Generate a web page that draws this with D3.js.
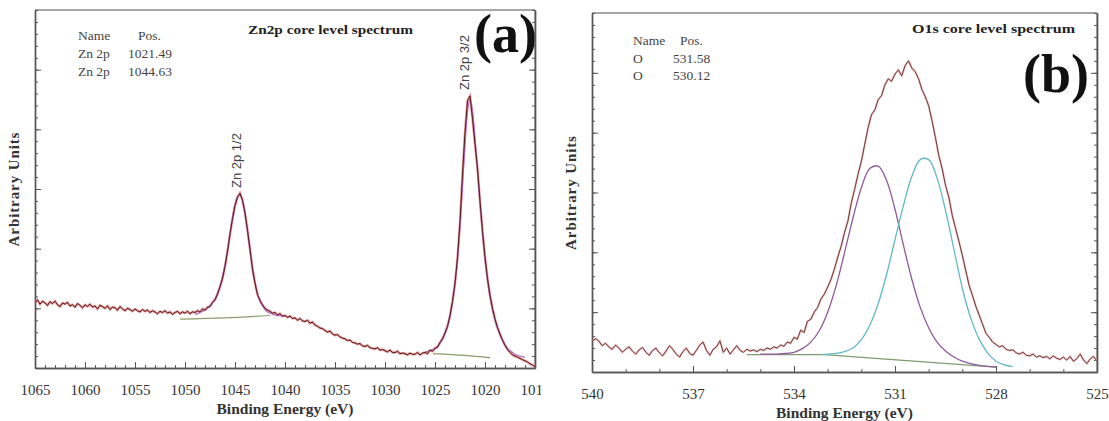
<!DOCTYPE html>
<html>
<head>
<meta charset="utf-8">
<script src="https://cdn.jsdelivr.net/npm/d3@7"></script>
<style>
  body { margin: 0; background: #fff; }
  svg { display: block; }
  text { font-family: "Liberation Serif", "Times New Roman", Times, serif; }
</style>
</head>
<body>
<svg id="chart" width="1109" height="421"></svg>
<script>
// ---------------- panel (a): Zn 2p ----------------
// raw spectrum, sampled every 0.25 eV from 1065 eV down to 1015 eV
const znStart = 1065;
const znStep = 0.25;
const znCounts = [
  1.10, 1.14, 1.07, 1.12, 1.09, 1.05, 1.11, 1.08, 1.12, 1.06, 1.03, 1.09,
  1.07, 1.10, 1.04, 1.06, 1.02, 1.08, 1.05, 1.01, 1.06, 1.03, 1.07, 1.02,
  1.04, 0.99, 1.05, 1.03, 1.00, 1.04, 0.98, 1.02, 1.01, 0.97, 1.03, 0.99,
  0.96, 1.00, 0.98, 0.95, 0.99, 0.96, 0.94, 0.98, 0.95, 0.97, 0.93, 0.96,
  0.94, 0.91, 0.95, 0.93, 0.96, 0.92, 0.94, 0.90, 0.93, 0.95, 0.91, 0.94,
  0.92, 0.95, 0.91, 0.94,
  0.93, 0.96, 0.94, 0.99, 0.97, 1.02, 1.03, 1.10, 1.14, 1.24, 1.36, 1.50,
  1.70, 1.95, 2.24, 2.50, 2.72, 2.86, 2.93, 2.81, 2.60, 2.31, 1.99, 1.66,
  1.42, 1.23, 1.13, 1.06, 1.00, 0.97, 0.95, 0.92, 0.93, 0.89, 0.91, 0.87,
  0.88, 0.85, 0.87, 0.83, 0.84, 0.80, 0.83, 0.79, 0.78, 0.80, 0.75, 0.77,
  0.72, 0.70, 0.67, 0.66, 0.63, 0.60, 0.62, 0.57, 0.55, 0.56, 0.52, 0.50,
  0.49, 0.46, 0.47, 0.43, 0.42, 0.40, 0.41, 0.37, 0.36, 0.38, 0.34, 0.33,
  0.32, 0.34, 0.30, 0.31, 0.29, 0.27, 0.30, 0.26, 0.26, 0.28, 0.24, 0.25,
  0.24, 0.22, 0.25, 0.23, 0.23, 0.26, 0.22, 0.25,
  0.26, 0.24, 0.30, 0.28, 0.33, 0.35, 0.43, 0.49, 0.59, 0.70, 0.88, 1.12,
  1.42, 1.85, 2.45, 3.25, 3.95, 4.48, 4.56, 4.18, 3.75, 3.35, 2.80, 2.30,
  1.86, 1.50, 1.22, 1.00, 0.82, 0.68, 0.57, 0.47, 0.38, 0.31, 0.26, 0.22,
  0.20, 0.18, 0.16, 0.14, 0.12, 0.10, 0.07, 0.05, 0.02
];
// fitted envelope over the two peaks [eV, intensity]
const znFit12 = [
  [1049, 0.90], [1048.75, 0.91], [1048.5, 0.93], [1048.25, 0.95], [1048, 0.97],
  [1047.75, 1.00], [1047.5, 1.04], [1047.25, 1.09], [1047, 1.16], [1046.75, 1.25],
  [1046.5, 1.37], [1046.25, 1.53], [1046, 1.73], [1045.75, 1.98], [1045.5, 2.25],
  [1045.25, 2.52], [1045, 2.74], [1044.75, 2.87], [1044.5, 2.90], [1044.25, 2.80],
  [1044, 2.58], [1043.75, 2.30], [1043.5, 1.98], [1043.25, 1.68], [1043, 1.43],
  [1042.75, 1.25], [1042.5, 1.12], [1042.25, 1.04], [1042, 0.98], [1041.75, 0.94],
  [1041.5, 0.92], [1041.25, 0.90], [1041, 0.89], [1040.75, 0.88], [1040.5, 0.88],
  [1040.25, 0.87], [1040, 0.87]
];
const znFit32 = [
  [1026, 0.27], [1025.75, 0.28], [1025.5, 0.29], [1025.25, 0.31], [1025, 0.33],
  [1024.75, 0.36], [1024.5, 0.41], [1024.25, 0.48], [1024, 0.57], [1023.75, 0.69],
  [1023.5, 0.86], [1023.25, 1.09], [1023, 1.40], [1022.75, 1.82], [1022.5, 2.38],
  [1022.25, 3.05], [1022, 3.75], [1021.75, 4.30], [1021.5, 4.52], [1021.25, 4.30],
  [1021, 3.85], [1020.75, 3.30], [1020.5, 2.75], [1020.25, 2.25], [1020, 1.82],
  [1019.75, 1.47], [1019.5, 1.19], [1019.25, 0.97], [1019, 0.80], [1018.75, 0.66],
  [1018.5, 0.55], [1018.25, 0.46], [1018, 0.39], [1017.75, 0.33], [1017.5, 0.29],
  [1017.25, 0.26], [1017, 0.23], [1016.75, 0.21], [1016.5, 0.20], [1016.25, 0.19],
  [1016, 0.18]
];
// Shirley backgrounds under each peak
const znBg12 = [[1050.5, 0.82], [1046, 0.84], [1041.5, 0.88]];
const znBg32 = [[1025.2, 0.24], [1022, 0.21], [1019.5, 0.17]];
const znTicks = [1065, 1060, 1055, 1050, 1045, 1040, 1035, 1030, 1025, 1020, 1015];
const znLegend = [['Name', 'Pos.'], ['Zn 2p', '1021.49'], ['Zn 2p', '1044.63']];

// ---------------- panel (b): O 1s ----------------
// raw spectrum, sampled every 0.1 eV from 540 eV down to 525 eV
const oStart = 540;
const oStep = 0.1;
const oCounts = [
  0.50, 0.56, 0.52, 0.44, 0.48, 0.42, 0.38, 0.45, 0.40, 0.33,
  0.38, 0.42, 0.35, 0.30, 0.37, 0.41, 0.33, 0.28, 0.36, 0.40,
  0.32, 0.27, 0.35, 0.44, 0.38, 0.30, 0.25, 0.34, 0.40, 0.31,
  0.28, 0.36, 0.45, 0.50, 0.36, 0.28, 0.38, 0.42, 0.52, 0.33,
  0.40, 0.30, 0.37, 0.44, 0.36, 0.33, 0.38, 0.35, 0.37, 0.34,
  0.38, 0.36, 0.40, 0.38, 0.42, 0.40, 0.45, 0.43, 0.50, 0.48,
  0.58, 0.55, 0.70, 0.66, 0.85, 0.88, 1.00, 1.08, 1.22, 1.30,
  1.42, 1.55, 1.72, 1.92, 2.10, 2.33, 2.52, 2.82, 3.05, 3.30,
  3.52, 3.80, 4.08, 4.30, 4.38, 4.55, 4.62, 4.80, 4.90, 4.86,
  4.98, 5.05, 4.95, 5.12, 5.20, 5.08, 5.02, 4.90, 4.72, 4.60,
  4.45, 4.20, 3.92, 3.62, 3.40, 3.12, 2.92, 2.62, 2.40, 2.18,
  1.95, 1.70, 1.45, 1.28, 1.10, 0.95, 0.80, 0.65, 0.58, 0.50,
  0.46, 0.42, 0.44, 0.38, 0.36, 0.37, 0.32, 0.30, 0.33, 0.28,
  0.27, 0.30, 0.25, 0.27, 0.24, 0.26, 0.22, 0.27, 0.23, 0.21,
  0.25, 0.20, 0.26, 0.18, 0.22, 0.30, 0.20, 0.14, 0.22, 0.26,
  0.18
];
// fitted components [eV, intensity]
const oPeak1 = [ // 531.58 eV, purple
  [535, 0.30], [534.75, 0.30], [534.5, 0.30], [534.25, 0.31], [534, 0.33],
  [533.75, 0.39], [533.5, 0.50], [533.25, 0.69], [533, 1.00], [532.75, 1.44],
  [532.5, 1.99], [532.25, 2.57], [532, 3.08], [531.75, 3.40], [531.5, 3.44],
  [531.25, 3.20], [531, 2.72], [530.75, 2.12], [530.5, 1.55], [530.25, 1.08],
  [530, 0.74], [529.75, 0.50], [529.5, 0.35], [529.25, 0.25], [529, 0.18],
  [528.75, 0.14], [528.5, 0.11], [528, 0.08]
];
const oPeak2 = [ // 530.12 eV, cyan
  [533.2, 0.29], [533, 0.30], [532.75, 0.31], [532.5, 0.34],
  [532.25, 0.40], [532, 0.54], [531.75, 0.78], [531.5, 1.14], [531.25, 1.63],
  [531, 2.21], [530.75, 2.78], [530.5, 3.27], [530.25, 3.55], [530, 3.55],
  [529.75, 3.24], [529.5, 2.70], [529.25, 2.05], [529, 1.40], [528.75, 0.90],
  [528.5, 0.55], [528.25, 0.32], [528, 0.18], [527.75, 0.12], [527.5, 0.09]
];
const oBg = [[535.4, 0.29], [533.1, 0.29], [528, 0.08]];
const oTicks = [540, 537, 534, 531, 528, 525];
const oLegend = [['Name', 'Pos.'], ['O', '531.58'], ['O', '530.12']];

const svg = d3.select('#chart');

const drawPanel = (p) => {
  const g = svg.append('g');
  if (p.clipRight) {
    const id = `clip-${p.id}`;
    svg.append('defs').append('clipPath').attr('id', id)
      .append('rect').attr('x', p.left - 40).attr('y', 0)
      .attr('width', p.clipRight - p.left + 40).attr('height', 421);
    g.attr('clip-path', `url(#${id})`);
  }

  const x = d3.scaleLinear().domain(p.xDomain).range([p.left, p.right]);
  const y = d3.scaleLinear().domain([0, 6]).range([p.bottom, p.top]);

  // frame
  g.append('line').attr('x1', p.left).attr('x2', p.right).attr('y1', p.top).attr('y2', p.top)
    .attr('stroke', '#8a8a8a').attr('stroke-width', 1.6);
  g.append('line').attr('x1', p.right).attr('x2', p.right).attr('y1', p.top).attr('y2', p.bottom)
    .attr('stroke', '#8a8a8a').attr('stroke-width', 1);

  const styleAxis = (sel) => {
    sel.attr('font-family', null);
    sel.selectAll('path, line').attr('stroke', '#555');
    sel.select('.domain').attr('stroke-width', 1.4);
    sel.selectAll('text').attr('fill', '#333').attr('font-size', 15);
  };

  // bottom axis
  g.append('g').attr('transform', `translate(0,${p.bottom})`)
    .call(d3.axisBottom(x).tickValues(p.xMinor).tickSizeInner(-3).tickSizeOuter(0).tickFormat(''))
    .call(styleAxis);
  g.append('g').attr('transform', `translate(0,${p.bottom})`)
    .call(d3.axisBottom(x).tickValues(p.ticks).tickSizeInner(-6).tickSizeOuter(0)
      .tickPadding(16).tickFormat(d3.format('d')))
    .call(styleAxis);

  // left / right axes, unlabelled
  const yMinor = d3.range(0, 6.001, 0.2);
  const yMajor = [1, 2, 3, 4, 5];
  [[d3.axisLeft, p.left], [d3.axisRight, p.right]].forEach(([axis, pos]) => {
    g.append('g').attr('transform', `translate(${pos},0)`)
      .call(axis(y).tickValues(yMinor).tickSizeInner(-3).tickSizeOuter(0).tickFormat(''))
      .call(styleAxis);
    g.append('g').attr('transform', `translate(${pos},0)`)
      .call(axis(y).tickValues(yMajor).tickSizeInner(-6).tickSizeOuter(0).tickFormat(''))
      .call(styleAxis);
  });

  // axis titles
  g.append('text').attr('x', (p.left + p.right) / 2).attr('y', p.bottom + 46)
    .attr('text-anchor', 'middle').attr('font-weight', 'bold').attr('font-size', 15.5)
    .attr('fill', '#333').text('Binding Energy (eV)');
  g.append('text')
    .attr('transform', `translate(${p.left - 16},${(p.top + p.bottom) / 2}) rotate(-90)`)
    .attr('text-anchor', 'middle').attr('font-weight', 'bold').attr('font-size', 15)
    .attr('letter-spacing', 0.9).attr('fill', '#333').text('Arbitrary Units');

  // legend table
  p.legend.forEach((row, i) => {
    const ty = p.legendY + i * p.legendDy;
    g.append('text').attr('x', p.legendX[0]).attr('y', ty).attr('font-size', 13.5)
      .attr('fill', '#444').text(row[0]);
    g.append('text').attr('x', p.legendX[i === 0 ? 1 : 2]).attr('y', ty).attr('font-size', 13.5)
      .attr('fill', '#444').text(row[1]);
  });

  // title + panel letter
  g.append('text').attr('x', p.titleX).attr('y', p.titleY).attr('font-weight', 'bold')
    .attr('font-size', 13).attr('fill', '#222').attr('textLength', p.titleLen)
    .attr('lengthAdjust', 'spacingAndGlyphs').text(p.title);
  g.append('text').attr('x', p.letterX).attr('y', p.letterY).attr('text-anchor', 'end')
    .attr('font-weight', 'bold').attr('font-size', 54).attr('fill', '#111').text(p.letter);

  return { g, x, y };
};

// ---- panel (a)
const A = drawPanel({
  id: 'a', left: 35, right: 535, top: 10, bottom: 368, clipRight: 541,
  xDomain: [1065, 1015], ticks: znTicks, xMinor: d3.range(1065, 1014.9, -1),
  legend: znLegend, legendX: [78, 138, 128], legendY: 40, legendDy: 18,
  title: 'Zn2p core level spectrum', titleX: 248, titleY: 34, titleLen: 165,
  letter: '(a)', letterX: 537, letterY: 52
});

const lineA = d3.line().x((d) => A.x(d[0])).y((d) => A.y(d[1])).curve(d3.curveCatmullRom);
const straightA = d3.line().x((d) => A.x(d[0])).y((d) => A.y(d[1]));
const znRaw = znCounts.map((v, i) => [znStart - i * znStep, v]);

[znBg12, znBg32].forEach((bg) => {
  A.g.append('path').datum(bg).attr('d', lineA).attr('fill', 'none')
    .attr('stroke', '#8c9c6c').attr('stroke-width', 1.2);
});
A.g.append('path').datum(znRaw).attr('d', straightA)
  .attr('fill', 'none').attr('stroke', '#d86a6a').attr('stroke-width', 2.4).attr('opacity', 0.7);
[znFit12, znFit32].forEach((fit) => {
  A.g.append('path').datum(fit).attr('d', lineA).attr('fill', 'none')
    .attr('stroke', '#b46cc0').attr('stroke-width', 1.3);
});
A.g.append('path').datum(znRaw).attr('d', straightA)
  .attr('fill', 'none').attr('stroke', '#5a1c1c').attr('stroke-width', 1);

// peak labels
const peakLabel = (tx, ty, txt) => A.g.append('text')
  .attr('transform', `translate(${tx},${ty}) rotate(-90)`)
  .style('font-family', '"Liberation Sans", Arial, sans-serif').attr('font-size', 13)
  .attr('fill', '#444').text(txt);
peakLabel(A.x(1021.55) - 1, 90, 'Zn 2p 3/2');
peakLabel(A.x(1044.6) + 2, 188, 'Zn 2p 1/2');

// ---- panel (b)
const B = drawPanel({
  id: 'b', left: 592, right: 1097, top: 13, bottom: 372,
  xDomain: [540, 525], ticks: oTicks, xMinor: d3.range(540, 524.9, -1),
  legend: oLegend, legendX: [633, 680, 673], legendY: 45, legendDy: 17.5,
  title: 'O1s core level spectrum', titleX: 912, titleY: 33, titleLen: 163,
  letter: '(b)', letterX: 1089, letterY: 92
});

const lineB = d3.line().x((d) => B.x(d[0])).y((d) => B.y(d[1])).curve(d3.curveCatmullRom);
const straightB = d3.line().x((d) => B.x(d[0])).y((d) => B.y(d[1]));
const oRaw = oCounts.map((v, i) => [oStart - i * oStep, v]);

B.g.append('path').datum(oBg).attr('d', straightB)
  .attr('fill', 'none').attr('stroke', '#7f9a72').attr('stroke-width', 1.2);
B.g.append('path').datum(oPeak1).attr('d', lineB).attr('fill', 'none')
  .attr('stroke', '#8c5a9c').attr('stroke-width', 1.3);
B.g.append('path').datum(oPeak2).attr('d', lineB).attr('fill', 'none')
  .attr('stroke', '#62b8c4').attr('stroke-width', 1.3);
B.g.append('path').datum(oRaw).attr('d', straightB)
  .attr('fill', 'none').attr('stroke', '#e09a9a').attr('stroke-width', 2.2).attr('opacity', 0.6);
B.g.append('path').datum(oRaw).attr('d', straightB)
  .attr('fill', 'none').attr('stroke', '#6e3a3a').attr('stroke-width', 1);
</script>
</body>
</html>
